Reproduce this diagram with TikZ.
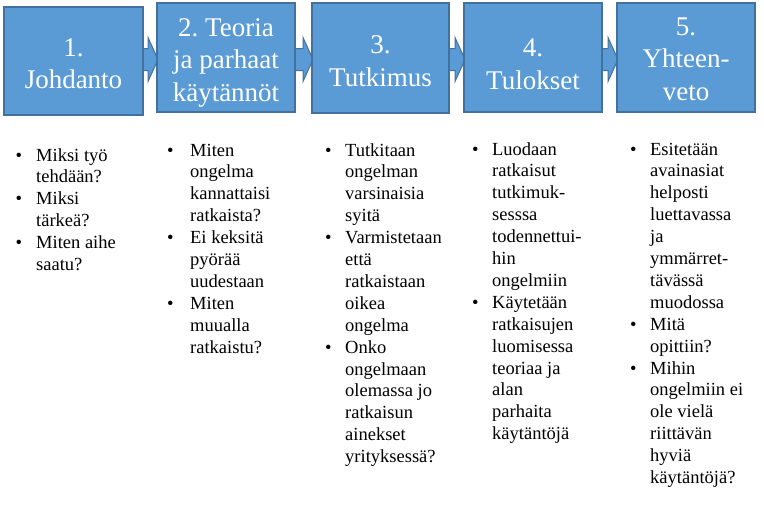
\documentclass[tikz,border=0pt]{standalone}
\usepackage{fontspec}
\setmainfont{Liberation Serif}
\usetikzlibrary{calc,backgrounds}
\definecolor{boxblue}{HTML}{5B9BD5}
\definecolor{boxedge}{HTML}{41719C}
\frenchspacing
\newlength\bulind
\newcommand\stageitem[1]{\par{\let\\\newline\hangindent=\bulind\hangafter=1\noindent\makebox[\bulind][l]{\textbullet}#1\par}}
\newcommand\stagecol[2]{\parbox[t]{150pt}{\parskip=0pt\parfillskip=0pt plus 1fil\rightskip=0pt plus 100pt\bulind=#1 #2}}
\begin{document}
\begin{tikzpicture}[x=1pt,y=-1pt,
  stagebox/.style={draw=boxedge, fill=boxblue, line width=1.6pt, anchor=north west, inner sep=0, outer sep=0},
  stagetext/.style={text=white, font=\fontsize{27}{32.5}\selectfont, inner sep=0, anchor=base},
  flowarrow/.style={draw=boxedge, fill=boxblue, line width=1pt, line join=miter},
  bulletcol/.style={font=\fontsize{18.5}{21.9}\selectfont, inner sep=0, anchor=base west}]
\useasboundingbox (0,0) rectangle (764,512);

% boxes
\node[stagebox, minimum width=139pt, minimum height=108pt] (b1) at (4,7) {};
\node[stagebox, minimum width=138pt, minimum height=109pt] (b2) at (157,3) {};
\node[stagebox, minimum width=137pt, minimum height=110pt] (b3) at (312,3) {};
\node[stagebox, minimum width=138pt, minimum height=109pt] (b4) at (464,3) {};
\node[stagebox, minimum width=138pt, minimum height=109pt] (b5) at (617,3) {};

% box texts
\node[stagetext] (t1) at (73.5,56) {\parbox[t]{139pt}{\centering 1.\\Johdanto}};
\node[stagetext] (t2) at (226,36) {\parbox[t]{139pt}{\centering 2. Teoria\\ja parhaat\\käytännöt}};
\node[stagetext] (t3) at (380.5,53.5) {\parbox[t]{139pt}{\centering 3.\\Tutkimus}};
\node[stagetext] (t4) at (533,56.5) {\parbox[t]{139pt}{\centering 4.\\Tulokset}};
\node[stagetext] (t5) at (686,35) {\parbox[t]{139pt}{\centering 5.\\Yhteen-\\veto}};

% arrows behind boxes
\begin{scope}[on background layer]
\fill[white] (0,0) rectangle (764,512);
\foreach \a/\b in {b1/b2,b2/b3,b3/b4,b4/b5}{
  \draw[flowarrow]
    ($(\a.east |- 0,48.5)+(-6,0)$) -- ($(\b.west |- 0,48.5)+(-9,0)$) --
    ($(\b.west |- 0,37.5)+(-9,0)$) -- ($(\b.west |- 0,59.5)+(1,0)$) --
    ($(\b.west |- 0,81.5)+(-9,0)$) -- ($(\b.west |- 0,70.5)+(-9,0)$) --
    ($(\a.east |- 0,70.5)+(-6,0)$) -- cycle;
}
\end{scope}

% bullet lists
\node[bulletcol] (c1) at (15.5,161) {\stagecol{20.5pt}{%
  \stageitem{Miksi työ\\tehdään?}%
  \stageitem{Miksi\\tärkeä?}%
  \stageitem{Miten aihe\\saatu?}}};
\node[bulletcol] (c2) at (167,156) {\stagecol{23pt}{%
  \stageitem{Miten\\ongelma\\kannattaisi\\ratkaista?}%
  \stageitem{Ei keksitä\\pyörää\\uudestaan}%
  \stageitem{Miten\\muualla\\ratkaistu?}}};
\node[bulletcol] (c3) at (325,156) {\stagecol{20pt}{%
  \stageitem{Tutkitaan\\ongelman\\varsinaisia\\syitä}%
  \stageitem{Varmistetaan\\että\\ratkaistaan\\oikea\\ongelma}%
  \stageitem{Onko\\ongelmaan\\olemassa jo\\ratkaisun\\ainekset\\yrityksessä?}}};
\node[bulletcol] (c4) at (472,155) {\stagecol{20pt}{%
  \stageitem{Luodaan\\ratkaisut\\tutkimuk-\\sesssa\\todennettui-\\hin\\ongelmiin}%
  \stageitem{Käytetään\\ratkaisujen\\luomisessa\\teoriaa ja\\alan\\parhaita\\käytäntöjä}}};
\node[bulletcol] (c5) at (630,155) {\stagecol{20pt}{%
  \stageitem{Esitetään\\avainasiat\\helposti\\luettavassa\\ja\\ymmärret-\\tävässä\\muodossa}%
  \stageitem{Mitä\\opittiin?}%
  \stageitem{Mihin\\ongelmiin ei\\ole vielä\\riittävän\\hyviä\\käytäntöjä?}}};
\end{tikzpicture}
\end{document}
